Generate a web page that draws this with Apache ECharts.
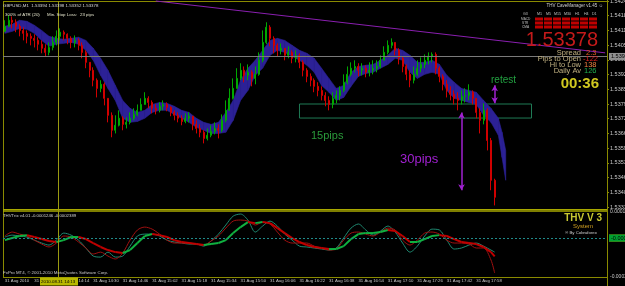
<!DOCTYPE html>
<html><head><meta charset="utf-8">
<script src="https://cdn.jsdelivr.net/npm/echarts@6/dist/echarts.min.js"></script>
<style>html,body{margin:0;padding:0;background:#000;}#c{width:625px;height:286px;}</style>
</head><body><div id="c"></div>
<script>
// ---- price data (2-minute slots from 13:42) ----
const firstOpen = 1.54111;
const closes = [1.54133,1.54160,1.54151,1.54133,1.54115,1.54102,1.54089,1.54080,1.54071,1.54054,
1.54036,1.54018,1.54040,1.54062,1.54089,1.54107,1.54098,1.54080,1.54062,1.54071,
1.54049,1.54018,1.53974,1.53939,1.53895,1.53859,1.53877,1.53815,1.53740,1.53674,
1.53696,1.53727,1.53700,1.53709,1.53727,1.53744,1.53762,1.53788,1.53815,1.53797,
1.53771,1.53762,1.53780,1.53788,1.53775,1.53753,1.53740,1.53727,1.53713,1.53727,
1.53736,1.53700,1.53682,1.53665,1.53638,1.53652,1.53669,1.53682,1.53674,1.53718,
1.53762,1.53815,1.53859,1.53903,1.53939,1.53917,1.53930,1.53903,1.53921,1.53983,
1.54062,1.54129,1.54080,1.54049,1.54027,1.54036,1.54005,1.54018,1.53992,1.54005,
1.53974,1.53939,1.53912,1.53895,1.53868,1.53850,1.53828,1.53806,1.53788,1.53815,
1.53828,1.53850,1.53886,1.53921,1.53948,1.53956,1.53939,1.53948,1.53930,1.53939,
1.53948,1.53956,1.53983,1.54018,1.54049,1.54062,1.54027,1.53992,1.53956,1.53921,
1.53895,1.53921,1.53948,1.53965,1.53983,1.54001,1.54009,1.53948,1.53912,1.53877,
1.53850,1.53833,1.53815,1.53806,1.53824,1.53828,1.53842,1.53815,1.53753,1.53718,
1.53762,1.53629,1.53453,1.53378];
const highs = [1.54160,1.54182,1.54177,1.54164,1.54142,1.54129,1.54115,1.54102,1.54098,1.54085,
1.54071,1.54054,1.54062,1.54089,1.54115,1.54124,1.54115,1.54102,1.54089,1.54093,
1.54080,1.54062,1.54027,1.53974,1.53952,1.53903,1.53895,1.53885,1.53815,1.53753,
1.53740,1.53762,1.53736,1.53731,1.53753,1.53771,1.53788,1.53815,1.53842,1.53824,
1.53806,1.53788,1.53797,1.53806,1.53797,1.53780,1.53762,1.53753,1.53740,1.53749,
1.53753,1.53736,1.53718,1.53700,1.53674,1.53682,1.53696,1.53709,1.53700,1.53744,
1.53806,1.53859,1.53903,1.53948,1.53970,1.53956,1.53965,1.53939,1.53956,1.54018,
1.54115,1.54151,1.54138,1.54089,1.54058,1.54058,1.54036,1.54045,1.54027,1.54027,
1.54014,1.53983,1.53948,1.53925,1.53903,1.53886,1.53868,1.53842,1.53824,1.53842,
1.53850,1.53868,1.53921,1.53956,1.53974,1.53983,1.53970,1.53970,1.53961,1.53974,
1.53983,1.53983,1.54005,1.54045,1.54071,1.54080,1.54062,1.54036,1.54001,1.53965,
1.53939,1.53956,1.53983,1.53996,1.54009,1.54018,1.54018,1.54018,1.53956,1.53921,
1.53895,1.53868,1.53850,1.53842,1.53850,1.53859,1.53877,1.53850,1.53815,1.53771,
1.53793,1.53771,1.53640,1.53460];
const lows = [1.54107,1.54129,1.54124,1.54107,1.54089,1.54071,1.54058,1.54049,1.54040,1.54027,
1.54014,1.54001,1.54005,1.54027,1.54049,1.54071,1.54071,1.54054,1.54036,1.54040,
1.54027,1.53992,1.53948,1.53908,1.53868,1.53819,1.53842,1.53784,1.53709,1.53643,
1.53660,1.53691,1.53674,1.53682,1.53700,1.53718,1.53736,1.53762,1.53788,1.53771,
1.53749,1.53744,1.53753,1.53762,1.53758,1.53736,1.53718,1.53709,1.53696,1.53705,
1.53709,1.53674,1.53660,1.53643,1.53616,1.53629,1.53643,1.53656,1.53638,1.53665,
1.53709,1.53762,1.53810,1.53859,1.53895,1.53886,1.53895,1.53868,1.53877,1.53915,
1.53974,1.54055,1.54045,1.54014,1.54001,1.54009,1.53983,1.53992,1.53970,1.53974,
1.53948,1.53912,1.53886,1.53868,1.53842,1.53824,1.53806,1.53780,1.53762,1.53771,
1.53793,1.53806,1.53842,1.53877,1.53912,1.53930,1.53912,1.53917,1.53908,1.53912,
1.53921,1.53930,1.53948,1.53983,1.54009,1.54036,1.54005,1.53965,1.53930,1.53895,
1.53864,1.53881,1.53912,1.53930,1.53948,1.53965,1.53974,1.53921,1.53886,1.53850,
1.53819,1.53806,1.53788,1.53762,1.53788,1.53797,1.53806,1.53788,1.53727,1.53660,
1.53700,1.53585,1.53409,1.53342];

// ---- envelope band ----
const bandSlots = [0,2,4,6,8,10,12,14,16,18,20,22,24,26,28,30,32,34,36,38,40,42,44,46,48,50,52,54,56,58,60,62,64,66,68,70,72,74,76,78,80,82,84,86,88,90,92,94,96,98,100,102,104,106,108,110,112,114,116,118,120,122,124,126,128,130,132,134,135,136];
const bandTop = [1.54133,1.54142,1.54160,1.54155,1.54138,1.54115,1.54089,1.54080,1.54076,1.54080,
1.54085,1.54071,1.54036,1.53992,1.53939,1.53872,1.53806,1.53771,1.53753,1.53762,
1.53788,1.53797,1.53793,1.53780,1.53762,1.53753,1.53727,1.53709,1.53700,1.53709,
1.53753,1.53806,1.53895,1.53948,1.53983,1.54027,1.54071,1.54080,1.54071,1.54049,
1.54027,1.54014,1.53992,1.53948,1.53903,1.53859,1.53872,1.53930,1.53956,1.53961,
1.53965,1.53983,1.54005,1.54036,1.54027,1.54005,1.53974,1.53974,1.53983,1.53965,
1.53917,1.53886,1.53859,1.53850,1.53842,1.53806,1.53771,1.53727,1.53665,1.53585];
const bandBottom = [1.54102,1.54111,1.54124,1.54120,1.54102,1.54071,1.54045,1.54054,1.54058,1.54062,
1.54054,1.54027,1.53983,1.53917,1.53859,1.53806,1.53727,1.53709,1.53713,1.53727,
1.53753,1.53762,1.53762,1.53744,1.53727,1.53709,1.53687,1.53674,1.53660,1.53660,
1.53665,1.53718,1.53806,1.53850,1.53917,1.53948,1.54005,1.54027,1.54018,1.54001,
1.53983,1.53961,1.53930,1.53872,1.53842,1.53806,1.53819,1.53868,1.53912,1.53925,
1.53930,1.53948,1.53965,1.53992,1.53983,1.53930,1.53903,1.53921,1.53930,1.53921,
1.53850,1.53815,1.53806,1.53797,1.53788,1.53740,1.53709,1.53652,1.53554,1.53453];

// ---- THV Trix indicator (values in units of 1e-5) ----
const trixSlots = [0,2,4,6,8,10,12,14,16,18,20,22,24,26,28,30,32,34,36,38,40,42,44,46,48,50,52,54,56,58,60,62,64,66,68,70,72,74,76,78,80,82,84,86,88,90,92,94,96,98,100,102,104,106,108,110,112,114,116,118,120,122,124,126,128,130,132,133];
const trixFastE5 = [1.4,4.1,2.7,1.4,-1.4,-4.1,-6.1,-3.4,1.4,0.7,
-2.7,-6.8,-10.9,-9.6,-12.3,-14.3,-10.2,-1.4,5.5,7.5,
6.1,2.7,-1.4,-3.4,-3.4,-3.4,-4.1,-4.8,-2.0,1.4,
6.8,11.6,12.3,11.6,8.9,10.9,9.6,4.1,-1.4,-3.4,
-3.4,-3.4,-5.5,-6.8,-8.2,-7.5,-1.4,3.4,4.1,2.7,
1.4,4.1,6.8,5.5,-1.4,-4.8,-1.4,3.4,4.1,2.7,
-1.4,-3.4,-3.4,-4.1,-6.8,-6.8,-15.0,-23.89];
const trixSignalE5 = [0.7,2.0,1.4,0.7,-1.4,-3.4,-4.8,-1.4,3.4,2.0,
-1.4,-6.8,-12.3,-13.0,-9.6,-13.0,-12.3,-5.5,1.4,2.7,
2.7,1.4,-1.4,-2.7,-3.4,-4.1,-4.1,-5.5,-2.0,2.7,
8.9,15.0,16.4,12.3,4.1,8.2,11.6,8.2,2.7,-1.4,
-5.5,-6.1,-6.8,-7.5,-8.2,-6.8,0,6.8,9.6,5.5,
2.0,4.8,8.2,4.1,-3.4,-9.6,-5.5,1.4,6.1,5.5,
-1.4,-7.5,-6.8,-4.8,-3.4,-5.5,-8.2,-9.6];
const trixThickE5 = [-1.4,0,1.4,2.0,0.7,-0.7,-2.0,-2.7,-1.4,0.7,
0.7,-0.7,-3.4,-6.1,-8.2,-9.6,-10.2,-8.2,-3.4,1.4,
2.7,2.0,0.7,-1.4,-2.7,-3.4,-4.1,-4.8,-4.1,-3.4,
-1.4,3.4,7.5,10.9,10.2,10.9,10.2,6.8,3.4,0,
-2.7,-4.8,-6.1,-6.8,-7.5,-7.5,-5.5,-0.7,2.7,3.4,
3.4,4.1,5.5,4.8,1.4,-2.7,-2.7,-0.7,1.4,2.0,
1.4,-0.7,-2.7,-3.4,-4.1,-6.1,-9.6,-12.46];

// ---- axis labels ----
const tickLabels = ['31 Aug 2010','31 Aug 13:58','31 Aug 14:14','31 Aug 14:30','31 Aug 14:46','31 Aug 15:02','31 Aug 15:18','31 Aug 15:34','31 Aug 15:50','31 Aug 16:06','31 Aug 16:22','31 Aug 16:38','31 Aug 16:54','31 Aug 17:10','31 Aug 17:26','31 Aug 17:42','31 Aug 17:58'];
const slotCount = 164;
const priceMin = 1.53335, priceMax = 1.54245, priceStep = 0.00065;
const askPrice = 1.53401, bidPrice = 1.53378, crossPrice = 1.53996, levelPrice = 1.53766;
const zoneTop = 1.53790, zoneBottom = 1.53728;

const categories = [];
for (let i = 0; i < slotCount; i++) { const m = 13*60+42+2*i; categories.push(String(Math.floor(m/60)).padStart(2,'0')+':'+String(m%60).padStart(2,'0')); }
const candles = closes.map((c,k)=>[k===0?firstOpen:closes[k-1], c, lows[k], highs[k]]);
const E5 = 1e-5;
const fastData = trixSlots.map((s,k)=>[s, trixFastE5[k]*E5]);
const sigData = trixSlots.map((s,k)=>[s, trixSignalE5[k]*E5]);
const thickData = trixSlots.map((s,k)=>[s, trixThickE5[k]*E5]);
const bandData = bandSlots.map((s,k)=>[s, bandTop[k], bandBottom[k]]);

const OL = '#8a8a00', FONT = 'Liberation Sans';
const lab = (txt, bg, fg) => ({show:true, position:'end', distance:2, formatter:txt, backgroundColor:bg, color:fg, fontSize:5.5, fontFamily:FONT, padding:[1,2,0,2]});

const chart = echarts.init(document.getElementById('c'), null, {renderer:'canvas'});
const gtxt = (x,y,text,size,fill,extra) => ({type:'text', x:x, y:y, z:70, style:Object.assign({text:text, fontSize:size, fontFamily:FONT, fill:fill, verticalAlign:'middle'}, extra||{})});
const graphics = [
  {type:'line', shape:{x1:3,y1:1.5,x2:607,y2:1.5}, style:{stroke:OL,lineWidth:1}},
  {type:'line', shape:{x1:3.5,y1:1,x2:3.5,y2:277}, style:{stroke:OL,lineWidth:1}},
  {type:'line', shape:{x1:607.5,y1:0,x2:607.5,y2:286}, style:{stroke:OL,lineWidth:1}},
  {type:'line', shape:{x1:3,y1:209.5,x2:607,y2:209.5}, style:{stroke:'#a8a800',lineWidth:1}},
  {type:'line', shape:{x1:3,y1:211,x2:607,y2:211}, style:{stroke:'#a8a800',lineWidth:1.5}},
  {type:'line', shape:{x1:3,y1:277.5,x2:607,y2:277.5}, style:{stroke:OL,lineWidth:1}},
  {type:'line', z:40, shape:{x1:58.5,y1:1,x2:58.5,y2:277}, style:{stroke:'#9a9a10',lineWidth:1}},
  {type:'rect', z:60, shape:{x:40,y:277.5,width:38,height:8}, style:{fill:'#b8b800'}},
  gtxt(41,281.8,'2010.08.31 14:13',4.4,'#000'),
  gtxt(3,5.5,'GBPUSD,M1  1.53394 1.53398 1.53352 1.53378',4.4,'#d8d8d8'),
  gtxt(5,15,'300% of ATR (20)',4.4,'#e0e0c8'),
  gtxt(47,15,'Min. Stop Loss:',4.4,'#e0e0c8'),
  gtxt(80,15,'23 pips',4.4,'#e0e0c8'),
  gtxt(603,5.5,'THV CaveManager v1.45 ☺',4.5,'#d0d0d0',{align:'right'}),
  gtxt(523,14,'G3',3.6,'#c0c0c0'),
  gtxt(537,14,'M1',3.6,'#c0c0c0'),
  gtxt(546,14,'M5',3.6,'#c0c0c0'),
  gtxt(554,14,'M15',3.6,'#c0c0c0'),
  gtxt(564,14,'M30',3.6,'#c0c0c0'),
  gtxt(575,14,'H1',3.6,'#c0c0c0'),
  gtxt(584,14,'H4',3.6,'#c0c0c0'),
  gtxt(592,14,'D1',3.6,'#c0c0c0'),
  gtxt(521,19,'MACD',3.2,'#c0c0c0'),
  gtxt(522,23,'STR',3.2,'#c0c0c0'),
  gtxt(522,27,'CMA',3.2,'#c0c0c0'),
  gtxt(598,40,'1.53378',20,'#c41a1a',{align:'right'}),
  gtxt(581,52.5,'Spread',7.5,'#c0b080',{align:'right'}),
  gtxt(586,52.5,'2.3',7.5,'#e05a20'),
  gtxt(581,58.5,'Pips to Open',7.5,'#c0b080',{align:'right'}),
  gtxt(583,58.5,'-122',7.5,'#e02020'),
  gtxt(581,65,'Hi to Low',7.5,'#c0b080',{align:'right'}),
  gtxt(584,65,'138',7.5,'#f08040'),
  gtxt(581,71,'Daily Av',7.5,'#c0b080',{align:'right'}),
  gtxt(584,71,'126',7.5,'#20b050'),
  gtxt(599,84,'00:36',15,'#d0c820',{align:'right',fontWeight:'bold'}),
  gtxt(491,80,'retest',10,'#22a040'),
  gtxt(311,136,'15pips',11,'#2a9a3a'),
  gtxt(400,159,'30pips',13,'#a020d0'),
  gtxt(3,215.5,'THVTrix v4.01 -0.0001246 -0.0002389',4.3,'#d0d0d0'),
  gtxt(602,218.5,'THV V 3',10,'#c8c832',{align:'right',fontWeight:'bold'}),
  gtxt(583,226,'System',6,'#d0a020',{align:'center'}),
  gtxt(581,233,'® By Cobraforex',4.3,'#d0d0d0',{align:'center'}),
  gtxt(3,272.5,'FxPro MT4, © 2001-2010 MetaQuotes Software Corp.',4.4,'#c8c8c8')
];
for (let r = 0; r < 3; r++) for (let c = 0; c < 7; c++) {
  graphics.push({type:'rect', z:50, shape:{x:535+c*9, y:17.5+r*4, width:8, height:3}, style:{fill:'#c00000'}});
}

chart.setOption({
  animation:false,
  backgroundColor:'#000',
  grid:[
    {left:3, top:1, width:604, height:206, outerBoundsMode:'none', containLabel:false},
    {left:3, top:212, width:604, height:65, outerBoundsMode:'none', containLabel:false}
  ],
  xAxis:[
    {type:'category', gridIndex:0, data:categories, boundaryGap:true, show:false},
    {type:'category', gridIndex:1, data:categories, boundaryGap:true,
     axisLine:{show:false}, axisTick:{show:false}, splitLine:{show:false},
     axisLabel:{interval:0, align:'left', margin:2, fontSize:4.3, fontFamily:FONT, color:'#c8c8c8',
       formatter:(v,i)=> (i%8===0 && tickLabels[i/8]) ? tickLabels[i/8] : ''}}
  ],
  yAxis:[
    {type:'value', gridIndex:0, position:'right', min:priceMin, max:priceMax, interval:priceStep, scale:true,
     axisLine:{show:false}, axisTick:{show:true, length:2, lineStyle:{color:OL}}, splitLine:{show:false},
     axisLabel:{margin:3, fontSize:5.5, fontFamily:FONT, color:'#c8c8c8', formatter:v=>v.toFixed(5)}},
    {type:'value', gridIndex:1, position:'right', min:-0.000266, max:0.000178,
     axisLine:{show:false}, axisTick:{show:false}, splitLine:{show:false},
     axisLabel:{showMinLabel:true, showMaxLabel:true, margin:3, fontSize:5, fontFamily:FONT, color:'#c8c8c8',
       formatter:v=> (Math.abs(v-0.000178)<1e-9 || Math.abs(v+0.000266)<1e-9) ? v.toFixed(6) : ''}}
  ],
  series:[
    {type:'custom', xAxisIndex:0, yAxisIndex:0, z:1, data:bandData, encode:{x:0, y:[1,2]},
     renderItem:(params, api)=>{
       const k = params.dataIndex;
       if (k >= bandSlots.length-1) return null;
       const a = api.coord([bandSlots[k], bandTop[k]]), b = api.coord([bandSlots[k+1], bandTop[k+1]]);
       const c = api.coord([bandSlots[k+1], bandBottom[k+1]]), d = api.coord([bandSlots[k], bandBottom[k]]);
       return {type:'polygon', shape:{points:[a,b,c,d]}, style:{fill:'#2c2196', stroke:'#2c2196', lineWidth:0.6}};
     }},
    {type:'candlestick', xAxisIndex:0, yAxisIndex:0, z:3, data:candles, barWidth:1.5,
     itemStyle:{color:'#00a800', color0:'#d00000', borderColor:'#00a800', borderColor0:'#d00000', borderWidth:1},
     markLine:{silent:true, symbol:['none','none'], animation:false,
       data:[
         {yAxis:levelPrice, lineStyle:{color:'#1d6e6e', type:[2,2], width:1}, label:{show:false}},
         {yAxis:askPrice, lineStyle:{color:'#b0b000', type:[3,2], width:1}, label:lab('1.53401','#b8b800','#000')},
         {yAxis:bidPrice, lineStyle:{color:'#b0b000', type:'solid', width:1}, label:lab('1.53378','#b8b800','#000')},
         {yAxis:crossPrice, lineStyle:{color:'#7a7a7a', type:'solid', width:1}, label:lab('1.53996','#909090','#000')},
         [{coord:[41,1.54245]},{coord:[163,1.54016], lineStyle:{color:'#8a1fb0', width:1, type:'solid'}, label:{show:false}}],
         [{coord:[124,1.53753], symbol:'arrow', symbolSize:[5,6]},{coord:[124,1.53409], symbol:'arrow', symbolSize:[5,6], lineStyle:{color:'#a020d0', width:1.5, type:'solid'}, label:{show:false}}],
         [{coord:[133,1.53873], symbol:'arrow', symbolSize:[5,6]},{coord:[133,1.53793], symbol:'arrow', symbolSize:[5,6], lineStyle:{color:'#a020d0', width:1.5, type:'solid'}, label:{show:false}}]
       ]},
     markArea:{silent:true, itemStyle:{color:'rgba(0,0,0,0)', borderColor:'#1f7a55', borderWidth:1},
       data:[[{coord:[80,zoneTop]},{coord:[143,zoneBottom]}]]}
    },
    {type:'line', xAxisIndex:1, yAxisIndex:1, data:sigData, showSymbol:false, smooth:0.3, z:2,
     lineStyle:{color:'#1f8a72', width:1},
     markLine:{silent:true, symbol:['none','none'], animation:false,
       data:[
         {yAxis:0, lineStyle:{color:'#8a8a00', type:[2,2], width:1}, label:lab('0.000000','#b8b800','#000')},
         {yAxis:-0.00022, lineStyle:{color:'#1f8a8a', type:[2,2], width:1}, label:lab('-0.000220','#00a030','#000')}
       ]}},
    {type:'line', xAxisIndex:1, yAxisIndex:1, data:fastData, showSymbol:false, smooth:0.3, z:2,
     lineStyle:{color:'#a01010', width:1}},
    {type:'custom', xAxisIndex:1, yAxisIndex:1, z:3, data:thickData, encode:{x:0, y:1},
     renderItem:(params, api)=>{
       const k = params.dataIndex;
       if (k >= trixSlots.length-1) return null;
       const a = api.coord([trixSlots[k], trixThickE5[k]*E5]), b = api.coord([trixSlots[k+1], trixThickE5[k+1]*E5]);
       const up = trixThickE5[k+1] >= trixThickE5[k];
       return {type:'line', shape:{x1:a[0],y1:a[1],x2:b[0],y2:b[1]}, style:{stroke: up ? '#10b040' : '#c00000', lineWidth:2}};
     }}
  ],
  graphic:graphics
});
</script></body></html>
